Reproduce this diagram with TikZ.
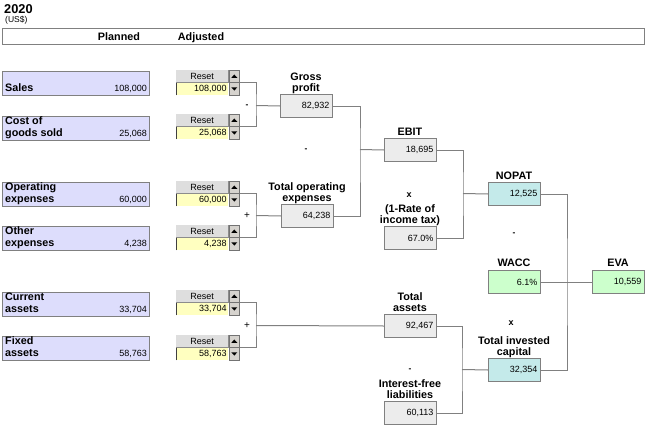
\documentclass[tikz,border=0pt]{standalone}
\usepackage{fontspec}
\setmainfont{Liberation Sans}
\definecolor{linegray}{RGB}{128,128,128}
\definecolor{boxgray}{RGB}{236,236,236}
\definecolor{bluefill}{RGB}{221,221,252}
\definecolor{cyanfill}{RGB}{196,234,234}
\definecolor{greenfill}{RGB}{204,255,204}
\definecolor{yellowfill}{RGB}{255,255,192}
\definecolor{resetgray}{RGB}{222,222,222}
\definecolor{btngray}{RGB}{214,211,206}
\newcommand{\numf}{\fontsize{9}{10}\selectfont}
\newcommand{\lblf}{\bfseries\fontsize{10.8}{11}\selectfont}
\tikzset{
  conn/.style={draw=linegray, line width=1pt},
  vbox/.style={draw=linegray, line width=1pt, fill=boxgray, minimum width=52, minimum height=23,
    inner sep=0pt, anchor=north west, text width=46pt, align=right, font=\numf},
  bbox/.style={draw=linegray, line width=1pt, fill=bluefill, minimum width=147, minimum height=24,
    inner sep=0pt, anchor=north west},
  lbl/.style={font=\lblf, inner sep=0pt},
  num/.style={font=\numf, inner sep=0pt},
  oper/.style={font=\fontsize{10}{11}\selectfont, inner sep=0pt},
  resetbtn/.style={fill=resetgray, minimum width=52, minimum height=12, inner sep=0pt, anchor=north west,
    font=\fontsize{9}{10}\selectfont},
  spinval/.style={fill=yellowfill, minimum width=52, minimum height=13, inner sep=0pt, anchor=north west,
    text width=49pt, align=right, font=\numf},
  arrbtn/.style={fill=btngray, draw=black!55, line width=0.6pt, minimum width=10, inner sep=0pt, anchor=north west},
}
\newcommand{\spinner}[3]{%
  \node[resetbtn] (r#1) at (176,#2) {Reset};
  \node[spinval] (v#1) at (176,#2+12) {#3};
  \draw[black!75, line width=0.8pt] (v#1.south west) -- (v#1.north west) -- (v#1.north east);
  \draw[black!45, line width=0.6pt] (r#1.south west) -- (r#1.south east) -- (r#1.north east);
  \node[arrbtn, minimum height=12] (u#1) at (229,#2) {};
  \node[arrbtn, minimum height=13] (d#1) at (229,#2+12) {};
  \fill ([xshift=-3pt,yshift=-1.5pt]u#1.center) -- ([xshift=3pt,yshift=-1.5pt]u#1.center) -- ([yshift=1.8pt]u#1.center) -- cycle;
  \fill ([xshift=-3pt,yshift=1.5pt]d#1.center) -- ([xshift=3pt,yshift=1.5pt]d#1.center) -- ([yshift=-1.8pt]d#1.center) -- cycle;
}
\begin{document}
\begin{tikzpicture}[x=1pt,y=-1pt]
\useasboundingbox (0,0) rectangle (646,426);
% header
\node[anchor=base west, inner sep=0pt, font=\bfseries\fontsize{12.8}{14}\selectfont] (yr) at (4,13) {2020};
\node[anchor=base west, inner sep=0pt, font=\fontsize{8.5}{9}\selectfont] (cur) at (5,22) {(US\$)};
\node[draw=linegray, line width=1pt, minimum width=642, minimum height=16, inner sep=0pt, anchor=north west] (hdr) at (2,28) {};
\node[lbl, anchor=base] (pl) at (119,40) {Planned};
\node[lbl, anchor=base] (ad) at (201,40) {Adjusted};

% planned boxes
\node[bbox] (b1) at (2,71) {};
\node[lbl, anchor=base west] (b1a) at (5,91) {Sales};
\node[num, anchor=base east] (b1n) at (147,91) {108,000};
\node[bbox] (b2) at (2,116) {};
\node[lbl, anchor=base west] (b2a) at (5,124) {Cost of};
\node[lbl, anchor=base west] (b2b) at (5,136) {goods sold};
\node[num, anchor=base east] (b2n) at (147,136) {25,068};
\node[bbox] (b3) at (2,182) {};
\node[lbl, anchor=base west] (b3a) at (5,190) {Operating};
\node[lbl, anchor=base west] (b3b) at (5,202) {expenses};
\node[num, anchor=base east] (b3n) at (147,202) {60,000};
\node[bbox] (b4) at (2,226) {};
\node[lbl, anchor=base west] (b4a) at (5,234) {Other};
\node[lbl, anchor=base west] (b4b) at (5,246) {expenses};
\node[num, anchor=base east] (b4n) at (147,246) {4,238};
\node[bbox] (b5) at (2,292) {};
\node[lbl, anchor=base west] (b5a) at (5,300) {Current};
\node[lbl, anchor=base west] (b5b) at (5,312) {assets};
\node[num, anchor=base east] (b5n) at (147,312) {33,704};
\node[bbox] (b6) at (2,336) {};
\node[lbl, anchor=base west] (b6a) at (5,344) {Fixed};
\node[lbl, anchor=base west] (b6b) at (5,356) {assets};
\node[num, anchor=base east] (b6n) at (147,356) {58,763};

% spinners
\spinner{1}{70}{108,000}
\spinner{2}{114}{25,068}
\spinner{3}{181}{60,000}
\spinner{4}{225}{4,238}
\spinner{5}{290}{33,704}
\spinner{6}{335}{58,763}

% result boxes
\node[vbox] (gp) at (280,94) {82,932};
\node[vbox] (top) at (281,204) {64,238};
\node[vbox] (ebit) at (384,138) {18,695};
\node[vbox] (tax) at (384,226) {67.0\%};
\node[vbox] (ta) at (384,314) {92,467};
\node[vbox] (ifl) at (384,401) {60,113};
\node[vbox, fill=cyanfill] (nopat) at (488,182) {12,525};
\node[vbox, fill=cyanfill] (tic) at (488,358) {32,354};
\node[vbox, fill=greenfill] (wacc) at (488,270) {6.1\%};
\node[vbox, fill=greenfill] (eva) at (592,270) {10,559};

% labels
\node[lbl, anchor=base] (gpa) at (306,80) {Gross};
\node[lbl, anchor=base] (gpb) at (306,91) {profit};
\node[lbl, anchor=base] (topa) at (307,190) {Total operating};
\node[lbl, anchor=base] (topb) at (307,201) {expenses};
\node[lbl, anchor=base] (ebita) at (410,135) {EBIT};
\node[lbl, anchor=base] (taxa) at (410,212) {(1-Rate of};
\node[lbl, anchor=base] (taxb) at (410,223) {income tax)};
\node[lbl, anchor=base] (taa) at (410,300) {Total};
\node[lbl, anchor=base] (tab) at (410,311) {assets};
\node[lbl, anchor=base] (ifla) at (410,387) {Interest-free};
\node[lbl, anchor=base] (iflb) at (410,398) {liabilities};
\node[lbl, anchor=base] (nopata) at (514,179) {NOPAT};
\node[lbl, anchor=base] (tica) at (514,344) {Total invested};
\node[lbl, anchor=base] (ticb) at (514,355) {capital};
\node[lbl, anchor=base] (wacca) at (514,266) {WACC};
\node[lbl, anchor=base] (evaa) at (618,266) {EVA};

% operators
\node[oper, font=\bfseries\fontsize{8.5}{9}\selectfont] (o1) at (247,106) {-};
\node[oper] (o2) at (247,216) {+};
\node[oper] (o3) at (247,326) {+};
\node[oper, font=\bfseries\fontsize{8.5}{9}\selectfont] (o4) at (306,150) {-};
\node[oper, font=\bfseries\fontsize{9}{9}\selectfont] (o5) at (409,195) {x};
\node[oper, font=\bfseries\fontsize{8.5}{9}\selectfont] (o6) at (514,234) {-};
\node[oper, font=\bfseries\fontsize{9}{9}\selectfont] (o7) at (511,323) {x};
\node[oper, font=\bfseries\fontsize{8.5}{9}\selectfont] (o8) at (410,370) {-};

% connectors
\coordinate (m1) at (256,105.5);
\draw[conn] (d1.north east) -| (m1) |- (d2.north east);
\draw[conn] (m1) -- (gp.west);
\coordinate (m2) at (256,215.5);
\draw[conn] (d3.north east) -| (m2) |- (d4.north east);
\draw[conn] (m2) -- (top.west);
\coordinate (m3) at (256,325.5);
\draw[conn] (d5.north east) -| (m3) |- (d6.north east);
\draw[conn] (m3) -- (ta.west);
\coordinate (m4) at (360,149.5);
\draw[conn] (gp.east) -| (m4) |- (top.east);
\draw[conn] (m4) -- (ebit.west);
\coordinate (m5) at (463,193.5);
\draw[conn] (ebit.east) -| (m5) |- (tax.east);
\draw[conn] (m5) -- (nopat.west);
\coordinate (m6) at (462,369.5);
\draw[conn] (ta.east) -| (m6) |- (ifl.east);
\draw[conn] (m6) -- (tic.west);
\coordinate (m7) at (567,281.5);
\draw[conn] (nopat.east) -| (m7) |- (tic.east);
\draw[conn] (wacc.east) -- (eva.west);
\end{tikzpicture}
\end{document}
